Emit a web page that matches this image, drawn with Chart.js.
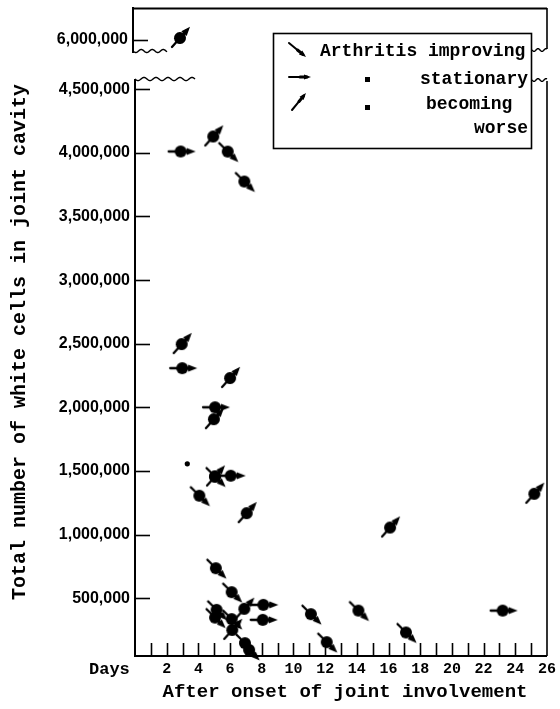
<!DOCTYPE html>
<html><head><meta charset="utf-8">
<script src="https://cdn.jsdelivr.net/npm/chart.js@4.4.0/dist/chart.umd.min.js"></script>
<style>
html,body{margin:0;padding:0;background:#fff;}
#wrap{position:relative;width:560px;height:709px;}
#main,#top{position:absolute;left:0;top:0;}
</style></head><body>
<div id="wrap"><canvas id="main" width="560" height="709"></canvas><canvas id="top" width="560" height="60"></canvas></div>
<script>
// ---- data ----
const xTickValues = [2,4,6,8,10,12,14,16,18,20,22,24,26];
const xTickLabels = ['2','4','6','8','10','12','14','16','18','20','22','24','26'];
const xMinorTicks = [1,2,3,4,5,6,7,8,9,10,11,12,13,14,15,16,17,18,19,20,21,22,23,24,25];
const yTickValues = [500000,1000000,1500000,2000000,2500000,3000000,3500000,4000000,4500000];
const yTickLabels = ['500,000','1,000,000','1,500,000','2,000,000','2,500,000','3,000,000','3,500,000','4,000,000','4,500,000'];
const topTickValues = [6000000];
const topTickLabels = ['6,000,000'];

const improvingDays  = [5.85, 6.9, 4.06, 5.1, 6.1, 5.15, 5.05, 6.1, 6.94, 7.2, 11.1, 12.1, 14.1, 17.1, 5.05];
const improvingCells = [4010000, 3775000, 1305000, 735000, 547000, 408000, 347000, 335000, 146000, 93000, 374000, 154000, 402000, 230000, 1456000];
const stationaryDays  = [2.88, 2.98, 5.05, 6.04, 8.1, 8.06, 23.2];
const stationaryCells = [4011000, 2308000, 2000000, 1462000, 447000, 329000, 402000];
const worseDays  = [4.94, 2.95, 6.0, 4.98, 7.05, 16.1, 25.2, 6.9, 6.14, 5.05];
const worseCells = [4129000, 2497000, 2230000, 1907000, 1168000, 1055000, 1320000, 416000, 250000, 1456000];
const otherDays  = [3.3];
const otherCells = [1556000];
const topWorseDays  = [2.95];
const topWorseCells = [6015000];

const FONT_MONO = '"Liberation Mono", "DejaVu Sans Mono", monospace';
const FONT_SANS = '"Liberation Sans", Arial, sans-serif';

function pts(xs, ys){ return xs.map((x,i)=>({x:x, y:ys[i]})); }

// marker: circle with direction line and arrow head
function makeMarker(angleDeg, withCircle){
  const S = 38, c = document.createElement('canvas'); c.width = S; c.height = S;
  const g = c.getContext('2d');
  g.translate(S/2, S/2); g.rotate(angleDeg*Math.PI/180);
  g.fillStyle = '#000'; g.strokeStyle = '#000'; g.lineCap = 'round';
  g.lineWidth = 2.3; g.beginPath(); g.moveTo(-12,0); g.lineTo(0,0); g.stroke();
  g.lineWidth = 3.2; g.beginPath(); g.moveTo(0,0); g.lineTo(9,0); g.stroke();
  g.beginPath(); g.moveTo(6,-3.6); g.lineTo(15,0); g.lineTo(6,3.6); g.closePath(); g.fill();
  if (withCircle){ g.beginPath(); g.arc(0,0,6,0,Math.PI*2); g.fill(); }
  return c;
}
const mImp = makeMarker(45, true), mSta = makeMarker(0, true), mWor = makeMarker(-48, true);

function wavy(ctx, x1, x2, y, amp, wl){
  ctx.beginPath();
  for (let x = x1; x <= x2 + 0.01; x += 0.5){
    const yy = y + amp*Math.sin((x-x1)/wl*2*Math.PI);
    if (x === x1) ctx.moveTo(x, yy); else ctx.lineTo(x, yy);
  }
  ctx.stroke();
}

function legendGlyph(ctx, x1, y1, x2, y2){
  const a = Math.atan2(y2-y1, x2-x1), L = Math.hypot(x2-x1, y2-y1);
  ctx.save(); ctx.translate(x1, y1); ctx.rotate(a);
  ctx.lineCap = 'round'; ctx.lineWidth = 2;
  ctx.beginPath(); ctx.moveTo(0,0); ctx.lineTo(L*0.55,0); ctx.stroke();
  ctx.lineWidth = 3;
  ctx.beginPath(); ctx.moveTo(L*0.5,0); ctx.lineTo(L-4,0); ctx.stroke();
  ctx.beginPath(); ctx.moveTo(L-7,-2.6); ctx.lineTo(L,0); ctx.lineTo(L-7,2.6); ctx.closePath(); ctx.fill();
  ctx.restore();
}

const mainDecor = {
  id: 'mainDecor',
  beforeDatasetsDraw(chart){
    const ctx = chart.ctx, a = chart.chartArea, xs = chart.scales.x, ys = chart.scales.y;
    ctx.save(); ctx.strokeStyle = '#000'; ctx.lineWidth = 1.6;
    xMinorTicks.forEach(v => { const px = Math.round(xs.getPixelForValue(v)) + 0.5;
      ctx.beginPath(); ctx.moveTo(px, a.bottom); ctx.lineTo(px, a.bottom - 13); ctx.stroke(); });
    yTickValues.forEach(v => { const py = Math.round(ys.getPixelForValue(v)) + 0.5;
      ctx.beginPath(); ctx.moveTo(a.left, py); ctx.lineTo(a.left + 15, py); ctx.stroke(); });
    // right border
    ctx.lineWidth = 1.6;
    ctx.beginPath(); ctx.moveTo(a.right, a.top + 1); ctx.lineTo(a.right, a.bottom); ctx.stroke();
    // break marks
    ctx.lineWidth = 1.4;
    wavy(ctx, a.left, a.left + 60, a.top - 1, 1.6, 12);
    wavy(ctx, a.right - 15, a.right, a.top, 1.4, 8);
    ctx.restore();
  },
  afterDraw(chart){
    const ctx = chart.ctx;
    ctx.save();
    // legend box
    ctx.fillStyle = '#fff'; ctx.fillRect(273, 33, 258, 115);
    ctx.strokeStyle = '#000'; ctx.lineWidth = 1.6; ctx.strokeRect(273.5, 33.5, 258, 115);
    ctx.fillStyle = '#000'; ctx.strokeStyle = '#000';
    legendGlyph(ctx, 289, 43, 306, 57);
    legendGlyph(ctx, 289, 77, 311, 77);
    legendGlyph(ctx, 292, 110, 306, 93);
    ctx.font = 'bold 18px ' + FONT_MONO; ctx.textBaseline = 'middle';
    ctx.textAlign = 'left'; ctx.fillText('Arthritis improving', 320, 51);
    ctx.textAlign = 'right'; ctx.fillText('stationary', 528, 79);
    ctx.textAlign = 'left'; ctx.fillText('becoming', 426, 104);
    ctx.textAlign = 'right'; ctx.fillText('worse', 528, 128);
    ctx.fillRect(365, 77, 5, 5); ctx.fillRect(365, 105, 5, 5);
    // axis titles
    ctx.textAlign = 'center';
    ctx.font = 'bold 19px ' + FONT_MONO;
    ctx.fillText('After onset of joint involvement', 345, 692);
    ctx.font = 'bold 17px ' + FONT_MONO; ctx.textAlign = 'left';
    ctx.fillText('Days', 89, 670);
    ctx.save(); ctx.translate(20, 342); ctx.rotate(-Math.PI/2);
    ctx.textAlign = 'center'; ctx.font = 'bold 20px ' + FONT_MONO;
    ctx.fillText('Total number of white cells in joint cavity', 0, 0);
    ctx.restore();
    ctx.restore();
  }
};

const topDecor = {
  id: 'topDecor',
  beforeDatasetsDraw(chart){
    const ctx = chart.ctx, a = chart.chartArea, ys = chart.scales.y;
    ctx.save(); ctx.strokeStyle = '#000'; ctx.lineWidth = 1.8;
    ctx.beginPath(); ctx.moveTo(a.left - 1, a.top + 0.5); ctx.lineTo(a.right, a.top + 0.5); ctx.stroke();
    ctx.lineWidth = 1.6;
    ctx.beginPath(); ctx.moveTo(a.right, a.top); ctx.lineTo(a.right, a.bottom - 3); ctx.stroke();
    topTickValues.forEach(v => { const py = Math.round(ys.getPixelForValue(v)) + 0.5;
      ctx.beginPath(); ctx.moveTo(a.left, py); ctx.lineTo(a.left + 15, py); ctx.stroke(); });
    ctx.lineWidth = 1.4;
    wavy(ctx, a.left, a.left + 34, a.bottom - 1, 1.5, 11);
    wavy(ctx, a.right - 15, a.right, a.bottom - 2, 1.4, 8);
    ctx.restore();
  }
};

const ptOpts = (style) => ({ pointStyle: style, pointRadius: 6, pointHoverRadius: 6, showLine: false, clip: false });

new Chart(document.getElementById('main'), {
  type: 'scatter',
  data: { datasets: [
    Object.assign({ label: 'Arthritis improving', data: pts(improvingDays, improvingCells) }, ptOpts(mImp)),
    Object.assign({ label: 'stationary', data: pts(stationaryDays, stationaryCells) }, ptOpts(mSta)),
    Object.assign({ label: 'becoming worse', data: pts(worseDays, worseCells) }, ptOpts(mWor)),
    { label: 'unmarked', data: pts(otherDays, otherCells), pointStyle: 'circle', pointRadius: 2.6, backgroundColor: '#000', borderColor: '#000', borderWidth: 0, clip: false }
  ]},
  options: {
    responsive: false, animation: false, events: [], devicePixelRatio: 1,
    layout: { autoPadding: false, padding: { left: 0, right: 13, top: 80, bottom: 0 } },
    plugins: { legend: { display: false }, tooltip: { enabled: false } },
    scales: {
      x: { type: 'linear', min: 0, max: 26,
        afterBuildTicks: s => { s.ticks = xTickValues.map(v => ({ value: v })); },
        afterFit: s => { s.height = 53; },
        ticks: { autoSkip: false, maxRotation: 0, padding: 4, color: '#000',
          font: { family: FONT_MONO, size: 15, weight: 'bold' },
          callback: v => { const i = xTickValues.indexOf(v); return i >= 0 ? xTickLabels[i] : ''; } },
        grid: { display: false, drawTicks: false },
        border: { display: true, color: '#000', width: 2 } },
      y: { type: 'linear', min: 45000, max: 4573000,
        afterBuildTicks: s => { s.ticks = yTickValues.map(v => ({ value: v })); },
        afterFit: s => { s.width = 135; },
        ticks: { padding: 5, color: '#000', font: { family: FONT_SANS, size: 16, weight: 'bold' },
          callback: v => { const i = yTickValues.indexOf(v); return i >= 0 ? yTickLabels[i] : ''; } },
        grid: { display: false, drawTicks: false },
        border: { display: true, color: '#000', width: 2 } }
    }
  },
  plugins: [mainDecor]
});

new Chart(document.getElementById('top'), {
  type: 'scatter',
  data: { datasets: [
    Object.assign({ label: 'becoming worse', data: pts(topWorseDays, topWorseCells) }, ptOpts(mWor))
  ]},
  options: {
    responsive: false, animation: false, events: [], devicePixelRatio: 1,
    layout: { autoPadding: false, padding: { left: 0, right: 13, top: 8, bottom: 8 } },
    plugins: { legend: { display: false }, tooltip: { enabled: false } },
    scales: {
      x: { type: 'linear', min: 0, max: 26, display: false },
      y: { type: 'linear', min: 5905000, max: 6250000,
        afterBuildTicks: s => { s.ticks = topTickValues.map(v => ({ value: v })); },
        afterFit: s => { s.width = 133; s.paddingTop = 0; s.paddingBottom = 0; },
        ticks: { padding: 5, color: '#000', font: { family: FONT_SANS, size: 16, weight: 'bold' },
          callback: v => { const i = topTickValues.indexOf(v); return i >= 0 ? topTickLabels[i] : ''; } },
        grid: { display: false, drawTicks: false },
        border: { display: true, color: '#000', width: 2 } }
    }
  },
  plugins: [topDecor]
});
</script>
</body></html>
